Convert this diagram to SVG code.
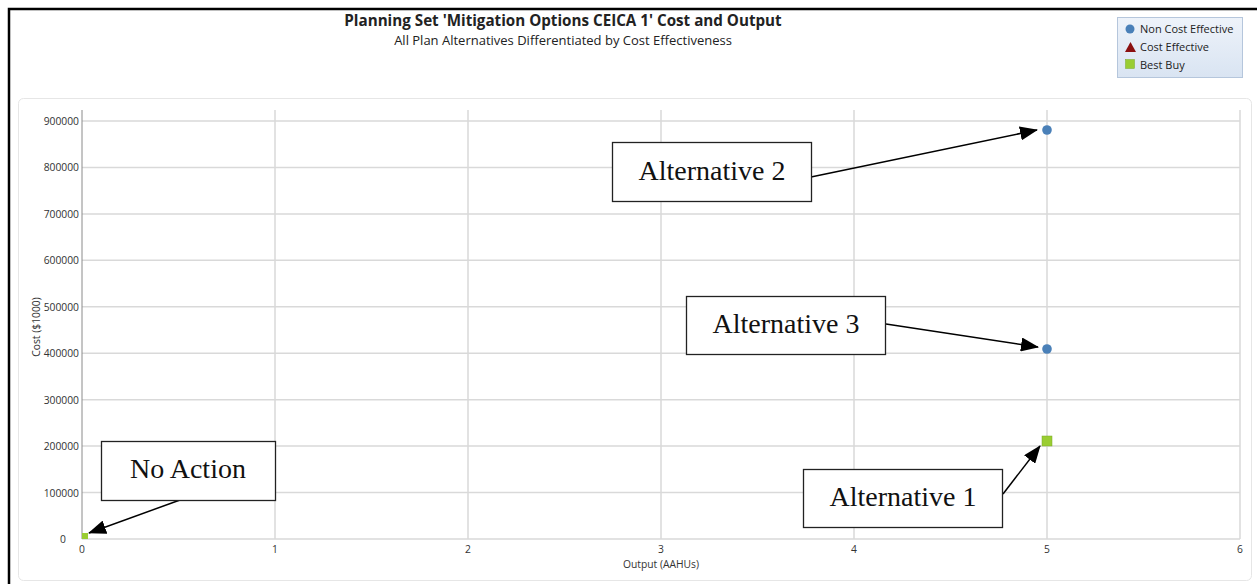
<svg xmlns="http://www.w3.org/2000/svg" width="1257" height="584" viewBox="0 0 1257 584">
<defs>
<style>
.ui{font-family:"Open Sans","Noto Sans","Liberation Sans",sans-serif;fill:#222}
.tick{font-family:"Open Sans","Noto Sans","Liberation Sans",sans-serif;font-size:10.3px;fill:#333}
.grid{stroke:#d9d9d9;stroke-width:1.5}
.box{fill:#fff;stroke:#222;stroke-width:1.3}
.lbl{font-family:"Liberation Serif","DejaVu Serif",serif;font-size:28px;fill:#111;text-anchor:middle}
.arr{stroke:#000;stroke-width:1.5;fill:none;marker-end:url(#ah)}
</style>
<marker id="ah" markerWidth="18" markerHeight="14" refX="17" refY="7" orient="auto" markerUnits="userSpaceOnUse">
<path d="M0,0 L18,7 L0,14 Z" fill="#000"/>
</marker>
<linearGradient id="lg" x1="0" y1="0" x2="0" y2="1">
<stop offset="0" stop-color="#eef3fa"/>
<stop offset="1" stop-color="#d9e4f2"/>
</linearGradient>
</defs>
<rect x="0" y="0" width="1257" height="584" fill="#fff"/>
<path d="M9,584 L9,9 L1257,9" fill="none" stroke="#000" stroke-width="2.5"/>
<g id="title">
<text class="ui" x="563" y="26" font-size="15.2" font-weight="bold" text-anchor="middle">Planning Set 'Mitigation Options CEICA 1' Cost and Output</text>
<text class="ui" x="563" y="45" font-size="13" text-anchor="middle">All Plan Alternatives Differentiated by Cost Effectiveness</text>
</g>
<g id="legend">
<rect x="1117.5" y="17.5" width="125" height="60" fill="url(#lg)" stroke="#b5c6dc"/>
<circle cx="1130" cy="29" r="4.5" fill="#4a80b8"/>
<text class="ui" x="1140" y="33" font-size="11">Non Cost Effective</text>
<path d="M1125,52 L1130.5,42 L1136,52 Z" fill="#8b1010"/>
<text class="ui" x="1140" y="51" font-size="11">Cost Effective</text>
<rect x="1125.5" y="59.5" width="9" height="9" fill="#9acd32" stroke="#7aa82a" stroke-width="0.5"/>
<text class="ui" x="1140" y="69" font-size="11">Best Buy</text>
</g>
<g id="chart">
<rect x="18.5" y="98.5" width="1233" height="482" rx="5" fill="#fff" stroke="#e6e6e6"/>
<g id="grid">
<line class="grid" x1="82" y1="121" x2="1240" y2="121"/>
<line class="grid" x1="82" y1="167.4" x2="1240" y2="167.4"/>
<line class="grid" x1="82" y1="213.9" x2="1240" y2="213.9"/>
<line class="grid" x1="82" y1="260.3" x2="1240" y2="260.3"/>
<line class="grid" x1="82" y1="306.8" x2="1240" y2="306.8"/>
<line class="grid" x1="82" y1="353.2" x2="1240" y2="353.2"/>
<line class="grid" x1="82" y1="399.7" x2="1240" y2="399.7"/>
<line class="grid" x1="82" y1="446.1" x2="1240" y2="446.1"/>
<line class="grid" x1="82" y1="492.6" x2="1240" y2="492.6"/>
<line class="grid" x1="275" y1="110" x2="275" y2="539"/>
<line class="grid" x1="468" y1="110" x2="468" y2="539"/>
<line class="grid" x1="661" y1="110" x2="661" y2="539"/>
<line class="grid" x1="854" y1="110" x2="854" y2="539"/>
<line class="grid" x1="1047" y1="110" x2="1047" y2="539"/>
<line class="grid" x1="1240" y1="110" x2="1240" y2="539"/>
<line class="grid" x1="82" y1="539" x2="1240" y2="539"/>
<line x1="82" y1="110" x2="82" y2="539" stroke="#8a8a8a" stroke-width="1"/>
</g>
<g id="yticks" class="tick" text-anchor="end">
<text x="79" y="125">900000</text>
<text x="79" y="171.4">800000</text>
<text x="79" y="217.9">700000</text>
<text x="79" y="264.3">600000</text>
<text x="79" y="310.8">500000</text>
<text x="79" y="357.2">400000</text>
<text x="79" y="403.7">300000</text>
<text x="79" y="450.1">200000</text>
<text x="79" y="496.6">100000</text>
<text x="66" y="543">0</text>
</g>
<g id="xticks" class="tick" text-anchor="middle">
<text x="82" y="553">0</text>
<text x="275" y="553">1</text>
<text x="468" y="553">2</text>
<text x="661" y="553">3</text>
<text x="854" y="553">4</text>
<text x="1047" y="553">5</text>
<text x="1240" y="553">6</text>
</g>
<text class="tick" x="661" y="568" text-anchor="middle">Output (AAHUs)</text>
<text class="tick" transform="translate(40,327) rotate(-90)" text-anchor="middle">Cost ($1000)</text>
<g id="points">
<circle cx="1047" cy="130" r="4.8" fill="#4a80b8"/>
<circle cx="1047" cy="349" r="4.8" fill="#4a80b8"/>
<rect x="1042" y="436" width="10" height="10" fill="#9acd32" stroke="#7aa82a" stroke-width="0.5"/>
<rect x="82" y="533" width="6" height="6" fill="#9acd32"/>
</g>
</g>
<g id="connectors">
<line class="arr" x1="811" y1="177" x2="1037" y2="130"/>
<line class="arr" x1="886" y1="324" x2="1038" y2="347"/>
<line class="arr" x1="180" y1="500" x2="89" y2="533"/>
<line class="arr" x1="1003" y1="494" x2="1040" y2="446"/>
</g>
<g id="alt2">
<rect class="box" x="612.5" y="142.5" width="199" height="59"/>
<text class="lbl" x="712" y="180">Alternative 2</text>
</g>
<g id="alt3">
<rect class="box" x="686.5" y="296.5" width="199" height="58"/>
<text class="lbl" x="786" y="333">Alternative 3</text>
</g>
<g id="noaction">
<rect class="box" x="101.5" y="441.5" width="174" height="59"/>
<text class="lbl" x="188" y="478">No Action</text>
</g>
<g id="alt1">
<rect class="box" x="803.5" y="469.5" width="199" height="58"/>
<text class="lbl" x="903" y="506">Alternative 1</text>
</g>
</svg>
